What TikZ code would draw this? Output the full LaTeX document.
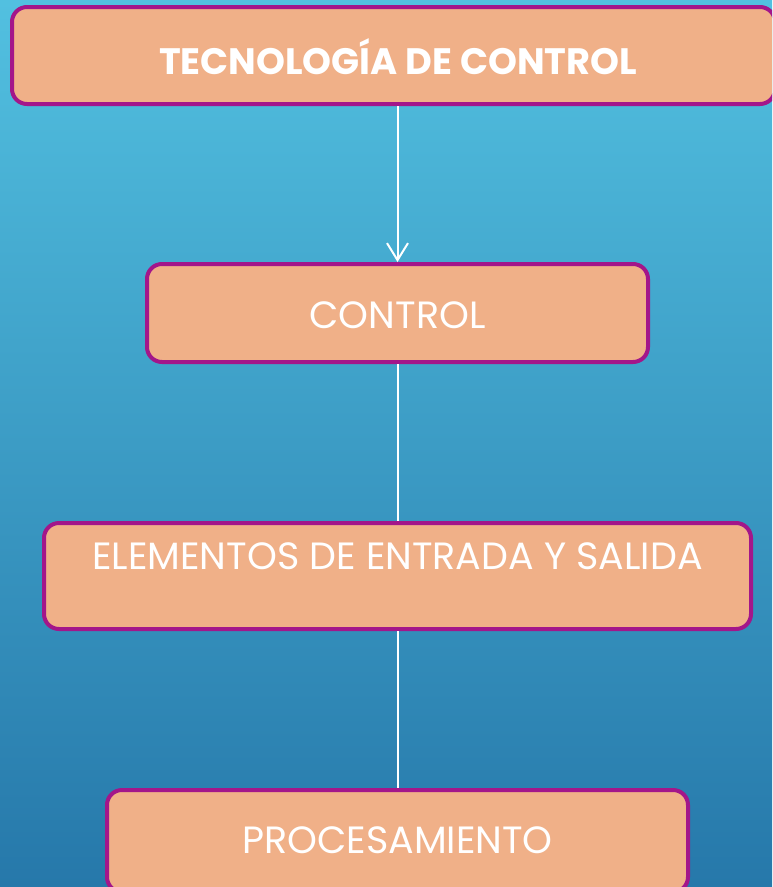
\documentclass[tikz,border=0pt]{standalone}
\usepackage{fontspec}
\setmainfont{Poppins}
\usetikzlibrary{arrows.meta}
\definecolor{bgtop}{HTML}{52C0E0}
\definecolor{bgbot}{HTML}{2678AA}
\definecolor{boxfill}{HTML}{F0B088}
\definecolor{boxedge}{HTML}{A3168A}
\tikzset{
  box/.style={draw=boxedge, line width=4pt, fill=boxfill, rounded corners=15pt, inner sep=0pt},
  lbl/.style={text=white, inner sep=0pt, font=\fontsize{38}{42}\selectfont},
  conn/.style={draw=white, line width=2pt},
}
\begin{document}
\begin{tikzpicture}[x=1pt,y=-1pt]
\useasboundingbox (0,0) rectangle (772,887);
\clip (0,0) rectangle (772,887);
\shade[top color=bgtop, bottom color=bgbot] (0,0) rectangle (772,887);
\node[box, minimum width=763pt, minimum height=97pt] (b1) at (393.5,55.5) {};
\node[box, minimum width=501pt, minimum height=98pt] (b2) at (397.5,313) {};
\node[box, minimum width=707pt, minimum height=106pt] (b3) at (397.5,576) {};
\node[box, minimum width=581pt, minimum height=102pt] (b4) at (397.5,841) {};
\node[lbl, font=\fontsize{36.8}{40}\selectfont\bfseries] (t1) at (398,57) {TECNOLOGÍA DE CONTROL};
\node[lbl] (t2) at (397.5,315) {CONTROL};
\node[lbl] (t3) at (397.5,556) {ELEMENTOS DE ENTRADA Y SALIDA};
\node[lbl] (t4) at (397.5,840) {PROCESAMIENTO};
\draw[conn, -{Straight Barb[length=17pt,width=21pt]}] (b2.north |- b1.south) -- (b2.north);
\draw[conn] (b2.south) -- (b2.south |- b3.north);
\draw[conn] (b3.south) -- (b4.north);
\end{tikzpicture}
\end{document}
